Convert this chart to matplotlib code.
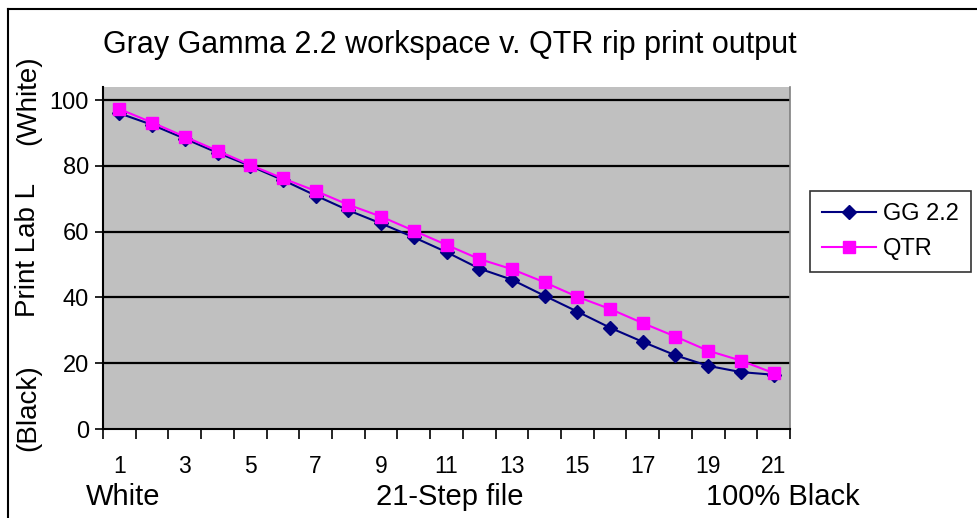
import matplotlib
matplotlib.use("Agg")
import matplotlib.pyplot as plt
from matplotlib.lines import Line2D

plt.rcParams['font.family'] = ['Liberation Sans', 'DejaVu Sans']

steps = list(range(1, 22))
gg22 = [96.0, 92.5, 88.3, 84.0, 80.0, 75.7, 71.0, 66.5, 62.5, 58.3, 53.8,
        48.8, 45.4, 40.5, 35.7, 30.8, 26.5, 22.4, 19.2, 17.3, 16.5]
qtr = [97.3, 93.2, 88.9, 84.6, 80.3, 76.2, 72.4, 68.2, 64.6, 60.3, 56.0,
       51.7, 48.6, 44.6, 40.2, 36.5, 32.2, 28.1, 23.8, 20.8, 17.0]
xtick_labels = [str(s) if s % 2 == 1 else '' for s in steps]
yticks = [0, 20, 40, 60, 80, 100]

W, H = 977, 518
fig = plt.figure(figsize=(W / 100, H / 100), dpi=100)
fig.patch.set_facecolor('white')

ax = fig.add_axes([103 / W, 1 - 429 / H, (790 - 103) / W, (429 - 87) / H])
ax.set_facecolor('#C0C0C0')

x = list(range(len(steps)))
ax.plot(x, gg22, color='#000080', lw=1.5, marker='D', markersize=7,
        markerfacecolor='#000080', markeredgecolor='#000080', label='GG 2.2', zorder=3)
ax.plot(x, qtr, color='#FF00FF', lw=1.5, marker='s', markersize=8,
        markerfacecolor='#FF00FF', markeredgecolor='#FF00FF', label='QTR', zorder=4)

ax.set_xlim(-0.5, len(steps) - 0.5)
ax.set_ylim(0, 104)

for yv in yticks[1:]:
    ax.axhline(yv, color='black', lw=1.6, zorder=1)

ax.set_yticks(yticks)
ax.set_yticklabels([str(v) for v in yticks], fontsize=17)
ax.tick_params(axis='y', direction='inout', length=12, width=1.2, pad=4)

ax.set_xticks(x)
ax.set_xticklabels(xtick_labels, fontsize=16.5)
ax.tick_params(axis='x', which='major', length=0, pad=19)
ax.set_xticks([i - 0.5 for i in range(len(steps) + 1)], minor=True)
ax.tick_params(axis='x', which='minor', direction='out', length=7, width=1.2)

for s in ['left', 'bottom']:
    ax.spines[s].set_color('black')
    ax.spines[s].set_linewidth(1.5)
ax.spines['top'].set_visible(False)
ax.spines['right'].set_color('#808080')
ax.spines['right'].set_linewidth(1.2)

fig.text(450 / W, 1 - 45 / H, 'Gray Gamma 2.2 workspace v. QTR rip print output',
         ha='center', va='center', fontsize=22)

fig.text(28 / W, 1 - 100 / H, '(White)', rotation=90, ha='center', va='center', fontsize=20)
fig.text(28 / W, 1 - 250 / H, 'Print Lab L', rotation=90, ha='center', va='center', fontsize=20)
fig.text(28 / W, 1 - 408 / H, '(Black)', rotation=90, ha='center', va='center', fontsize=20)

fig.text(86 / W, 1 - 497 / H, 'White', ha='left', va='center', fontsize=21)
fig.text(450 / W, 1 - 497 / H, '21-Step file', ha='center', va='center', fontsize=21)
fig.text(783 / W, 1 - 497 / H, '100% Black', ha='center', va='center', fontsize=21)

leg = ax.legend(loc='upper left', bbox_to_anchor=(810 / W, 1 - 191 / H),
                bbox_transform=fig.transFigure, borderaxespad=0, fontsize=17,
                frameon=True, fancybox=False, handlelength=2.3, handletextpad=0.3,
                labelspacing=0.55, borderpad=0.5)
leg.get_frame().set_edgecolor('black')
leg.get_frame().set_linewidth(1.2)
leg.get_frame().set_facecolor('white')

fig.add_artist(Line2D([8 / W, 8 / W], [0, 1 - 9 / H], transform=fig.transFigure,
                      color='black', lw=1.5))
fig.add_artist(Line2D([8 / W, 1], [1 - 9 / H, 1 - 9 / H], transform=fig.transFigure,
                      color='black', lw=1.5))

fig.savefig('out.png', dpi=100)
